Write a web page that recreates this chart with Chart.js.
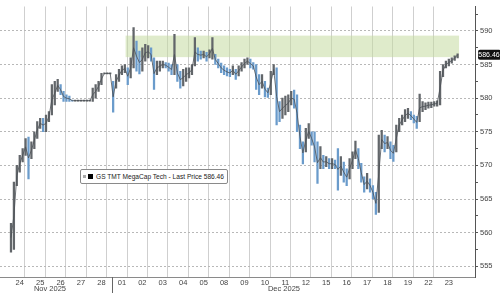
<!DOCTYPE html>
<html>
<head>
<meta charset="utf-8">
<script src="https://cdn.jsdelivr.net/npm/chart.js@4.4.1/dist/chart.umd.min.js"></script>
<style>
html,body{margin:0;padding:0;background:#fff;}
#wrap{position:relative;width:500px;height:293px;}
#legend{position:absolute;left:80px;top:169px;height:13px;padding:0 3px 0 2px;border:1px solid #8a8a8a;border-radius:2px;background:#fff;
  font:6.6px "Liberation Sans",sans-serif;color:#222;display:flex;align-items:center;white-space:nowrap;}
#legend .s1{width:3px;height:3px;background:#aaa;margin-right:2px;}
#legend .s2{width:5px;height:5px;background:#000;margin-right:3px;}
</style>
</head>
<body>
<div id="wrap">
<canvas id="chart" width="500" height="293"></canvas>
<div id="legend"><span class="s1"></span><span class="s2"></span>GS TMT MegaCap Tech - Last Price 586.46</div>
</div>
<script>
// trading days shown on the x axis
const days = ["24","25","26","27","28","01","02","03","04","05","08","09","10","11","12","15","16","17","18","19","22","23"];
const months = ["Nov 2025","Dec 2025"];
const perDay = 7; // bars per day

// bar lows / highs, one row per day
const lows = [
  557.1,557.5,567,569,570.5,571.5,568,
  571,572.5,574,575.5,575,575,576.5,
  577.5,579,581,580.5,579.5,579.5,579.5,
  579.55,579.55,579.55,579.55,579.55,579.55,579.55,
  579.5,580,581,582,583.6,583.6,583.6,
  577.9,581.5,582.5,583.5,583.8,582,583,
  584.5,584,583.6,584,585.5,586,585.5,
  581.3,583.5,584,584.5,584.5,584,583.5,
  583.5,582.5,581.5,581.8,582.5,583,583.5,
  584.8,585.5,585.8,586,585.5,586,585.8,
  585,584.5,583.8,583.5,583.3,583.2,583.5,
  582.8,583.3,584,584.5,585,584.5,584.3,
  581.3,580.5,581.5,580.2,580.1,580.5,583.5,
  576,576.5,577,577.5,578,579,578.5,
  575,572.5,570.2,572,574,573,570.5,
  567.3,569.5,569.5,569.8,569.5,569.5,569.5,
  566.3,568.5,567.5,567,568,569.5,571,
  569.5,567.5,566,566.5,566,565,562.7,
  563,572.5,572,572.5,571,570.6,572,
  575,576,576.5,577,576.8,576.3,575.5,
  576.5,578,578.3,578.5,578.6,578.8,578.8,
  579,583.2,584.5,584.8,585.2,585.6,586
];
const highs = [
  561.4,567.5,570,571.5,572.5,574,574.2,
  573.5,575,576.5,577,577,577.5,578,
  582,582.5,582.8,582,581,580.5,580.3,
  579.7,579.7,579.7,579.7,579.7,579.7,579.7,
  581.5,582,582.5,583.7,583.75,583.75,583.75,
  582.5,583.5,584.3,584.8,585,584.5,586,
  590.5,588.5,587,587.5,588,587.8,587.5,
  586,585.5,585.5,585.5,585.3,585.2,585,
  589.5,585,584,584.3,584.5,584.5,585,
  589,587.5,587,587,586.8,587.2,589,
  586.5,585.8,585.2,584.8,584.5,584.3,584.8,
  584.3,584.8,585.3,585.8,586,585.8,585.3,
  585,583.5,583.5,582.5,581.5,584,585,
  584.5,579.5,580,580.3,580.5,581,581.2,
  580.5,576,573.5,575.5,576.2,575,575,
  573.5,572.8,571.5,571.3,571,571,570.8,
  572.5,571.3,570.5,569.5,571,572,573.6,
  572.5,570.3,568.3,568.8,568,567,566,
  574.5,575.2,574.5,574.3,573.5,573,576,
  577,577.5,578.3,578.5,578,577.5,577.3,
  580.6,579.5,579.3,579.4,579.4,579.5,579.6,
  584,585,585.5,585.8,586,586.3,586.6
];
const lastPrice = 586.46;
const bandLo = 586.1, bandHi = 589.3;   // shaded zone
const bandFrom = 5.68, bandTo = 22.0;   // in day units

const xAt = i => Math.floor(i/perDay) + ((i%perDay)+0.5)/perDay;
const mid = i => (lows[i]+highs[i])/2;
const points = lows.map((lo,i)=>({x: xAt(i), y:[lo, highs[i]]}));
const midLine = lows.map((lo,i)=>({x: xAt(i), y: i===lows.length-1 ? lastPrice : mid(i)}));

const font = {family:"Liberation Sans", size:7.5};

const extras = {
  id:"extras",
  beforeDatasetsDraw(ch){
    const {ctx, scales:{x,y}} = ch;
    const x1 = x.getPixelForValue(bandFrom), x2 = x.getPixelForValue(bandTo);
    const y1 = y.getPixelForValue(bandHi), y2 = y.getPixelForValue(bandLo);
    ctx.save();
    ctx.fillStyle = "rgba(196,218,160,0.55)";
    ctx.fillRect(x1, y1, x2-x1, y2-y1);
    ctx.restore();
  },
  afterDraw(ch){
    const {ctx, scales:{x,y}, chartArea:a} = ch;
    ctx.save();
    // month separator + month names
    const sx = Math.round(x.getPixelForValue(5))+0.5;
    ctx.strokeStyle = "#666"; ctx.lineWidth = 1;
    ctx.beginPath(); ctx.moveTo(sx, a.bottom); ctx.lineTo(sx, ch.height); ctx.stroke();
    ctx.fillStyle = "#444"; ctx.font = "7.5px 'Liberation Sans'";
    ctx.textAlign = "center"; ctx.textBaseline = "middle";
    const monthPos = [1.98, 13.43];
    months.forEach((m,i)=>ctx.fillText(m, x.getPixelForValue(monthPos[i]), 289));
    // last price tag
    const py = y.getPixelForValue(lastPrice);
    ctx.fillStyle = "#111";
    ctx.beginPath(); ctx.roundRect(a.right+3, py-5, 23, 10, 2); ctx.fill();
    ctx.fillStyle = "#fff"; ctx.font = "7px 'Liberation Sans'";
    ctx.fillText(lastPrice.toFixed(2), a.right+14, py+0.5);
    ctx.restore();
  }
};

new Chart(document.getElementById("chart"), {
  type:"bar",
  data:{datasets:[{
    type:"line",
    data: midLine,
    borderColor:"#4b5055", borderWidth:0.8,
    pointRadius:0, tension:0
  },{
    data: points,
    barThickness: 1.6,
    minBarLength: 1,
    backgroundColor: c => (c.dataIndex>0 && mid(c.dataIndex) < mid(c.dataIndex-1)) ? "#6a9bcb" : "#62666a"
  }]},
  options:{
    responsive:false, animation:false,
    layout:{padding:0},
    plugins:{legend:{display:false}, tooltip:{enabled:false}},
    scales:{
      x:{
        type:"linear", min:-0.196, max:22.51,
        afterFit: ax=>{ax.height = 16;},
        afterBuildTicks: ax=>{
          const t = [];
          for(let d=0; d<days.length; d++){ t.push({value:d+0.5}); if(d>0) t.push({value:d}); }
          ax.ticks = t.sort((a,b)=>a.value-b.value);
        },
        ticks:{autoSkip:false, maxRotation:0, padding:1, color:"#444", font,
          callback: v => Number.isInteger(v) ? "" : days[Math.floor(v)]},
        grid:{drawTicks:false, color: c => (c.tick && Number.isInteger(c.tick.value)) ? "#cfcfcf" : "rgba(0,0,0,0)"},
        border:{color:"#8a8a8a"}
      },
      y:{
        position:"right", min:553.4, max:593.63,
        afterFit: ax=>{ax.width = 25;},
        afterBuildTicks: ax=>{
          const t = [];
          for(let v=555; v<=592.5; v+=2.5) t.push({value:v});
          ax.ticks = t;
        },
        ticks:{padding:2, color:"#444", font, callback: v => v%5===0 ? String(v) : ""},
        grid:{tickLength:3, tickColor:"#555",
          color: c => (c.tick && c.tick.value%5===0) ? "#b8b8b8" : "rgba(0,0,0,0)"},
        border:{color:"#555", dash:[2,2]}
      }
    }
  },
  plugins:[extras]
});
</script>
</body>
</html>
